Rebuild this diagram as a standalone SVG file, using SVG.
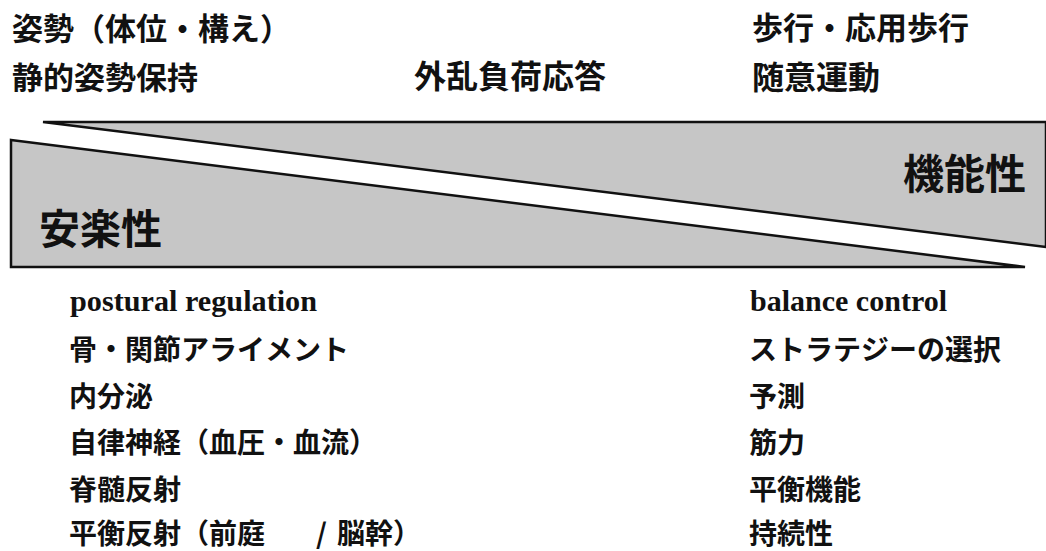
<svg xmlns="http://www.w3.org/2000/svg" width="1046" height="551" viewBox="0 0 1046 551">
<style>
.jp{font-family:"Noto Sans CJK JP","Noto Sans CJK SC",sans-serif;font-weight:bold;fill:#111;font-size:28px}
.hd{font-size:31px}
.hd2{font-size:32px}
.big{font-size:41px}
.en{font-family:"Liberation Serif",serif;font-weight:bold;fill:#111;font-size:30px}
.tri{fill:#c6c6c6;stroke:#111;stroke-width:2.5;stroke-linejoin:miter}
</style>
<rect width="1046" height="551" fill="#fff"/>
<g id="top-labels">
<text class="jp hd" x="12" y="40">姿勢（体位・構え）</text>
<text class="jp hd" x="12" y="89">静的姿勢保持</text>
<text class="jp hd2" x="414" y="88">外乱負荷応答</text>
<text class="jp hd" x="752" y="39">歩行・応用歩行</text>
<text class="jp hd2" x="752" y="89">随意運動</text>
</g>
<g id="kinou">
<polygon class="tri" points="43,122 1046,122 1046,247"/>
<text class="jp big" x="903" y="189">機能性</text>
</g>
<g id="anraku">
<polygon class="tri" points="11,140 1025,267 11,267"/>
<text class="jp big" x="39" y="244">安楽性</text>
</g>
<g id="left-list">
<text class="en" x="70" y="311" textLength="247" lengthAdjust="spacingAndGlyphs">postural regulation</text>
<text class="jp" x="69" y="360">骨・関節アライメント</text>
<text class="jp" x="69" y="407">内分泌</text>
<text class="jp" x="69" y="453">自律神経（血圧・血流）</text>
<text class="jp" x="69" y="500">脊髄反射</text>
<text class="jp" x="69" y="544">平衡反射（前庭<tspan x="316">/</tspan><tspan x="337">脳幹）</tspan></text>
</g>
<g id="right-list">
<text class="en" x="750" y="311" textLength="197" lengthAdjust="spacingAndGlyphs">balance control</text>
<text class="jp" x="749" y="360">ストラテジーの選択</text>
<text class="jp" x="749" y="407">予測</text>
<text class="jp" x="749" y="453">筋力</text>
<text class="jp" x="749" y="500">平衡機能</text>
<text class="jp" x="749" y="544">持続性</text>
</g>
</svg>
